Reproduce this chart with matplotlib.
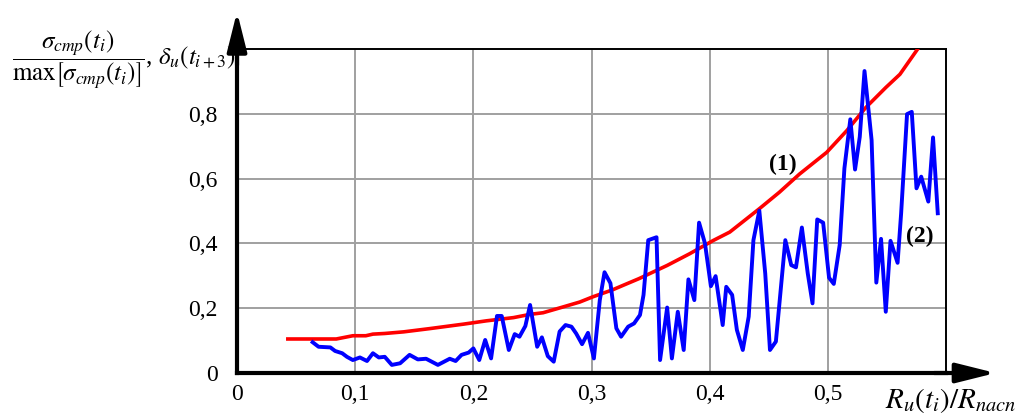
import numpy as np
import matplotlib
matplotlib.use("Agg")
import matplotlib.pyplot as plt
from matplotlib.ticker import FuncFormatter

# ─── Data ───────────────────────────────────────────────────────────────────
# (1) red curve: sigma_cmp(t_i) / max[sigma_cmp(t_i)]
red_x = [0.043, 0.084, 0.098, 0.109, 0.115, 0.125, 0.141, 0.163, 0.192, 0.211,
         0.234, 0.248, 0.259, 0.276, 0.290, 0.301, 0.318, 0.327, 0.340, 0.364,
         0.383, 0.403, 0.417, 0.442, 0.459, 0.476, 0.499, 0.516, 0.532, 0.549,
         0.561, 0.576]
red_y = [0.105, 0.105, 0.115, 0.115, 0.120, 0.122, 0.127, 0.137, 0.151, 0.161,
         0.171, 0.181, 0.186, 0.204, 0.219, 0.235, 0.257, 0.271, 0.291, 0.332,
         0.368, 0.409, 0.435, 0.507, 0.558, 0.614, 0.681, 0.748, 0.819, 0.881,
         0.922, 1.000]

# (2) blue curve: delta_u(t_{i+3})
blue_x = [0.064, 0.069, 0.079, 0.083, 0.089, 0.093, 0.098, 0.104, 0.110, 0.115,
          0.120, 0.125, 0.131, 0.138, 0.146, 0.153, 0.160, 0.170, 0.180, 0.185,
          0.190, 0.196, 0.200, 0.205, 0.210, 0.215, 0.220, 0.224, 0.230, 0.235,
          0.239, 0.244, 0.248, 0.254, 0.258, 0.263, 0.268, 0.273, 0.278, 0.283,
          0.287, 0.292, 0.297, 0.302, 0.307, 0.311, 0.316, 0.321, 0.325, 0.331,
          0.336, 0.341, 0.344, 0.348, 0.355, 0.358, 0.364, 0.368, 0.373, 0.378,
          0.382, 0.387, 0.391, 0.396, 0.401, 0.405, 0.411, 0.414, 0.419, 0.423,
          0.428, 0.433, 0.437, 0.442, 0.447, 0.451, 0.456, 0.464, 0.469, 0.473,
          0.478, 0.483, 0.487, 0.491, 0.496, 0.501, 0.505, 0.510, 0.514, 0.519,
          0.523, 0.527, 0.531, 0.537, 0.541, 0.545, 0.549, 0.553, 0.559, 0.562,
          0.567, 0.571, 0.575, 0.579, 0.585, 0.589, 0.593]
blue_y = [0.095, 0.081, 0.079, 0.068, 0.061, 0.050, 0.040, 0.048, 0.037, 0.061,
          0.048, 0.050, 0.025, 0.030, 0.056, 0.042, 0.044, 0.025, 0.044, 0.037,
          0.056, 0.063, 0.076, 0.040, 0.102, 0.045, 0.176, 0.176, 0.071, 0.120,
          0.112, 0.145, 0.210, 0.081, 0.110, 0.052, 0.035, 0.128, 0.148, 0.143,
          0.122, 0.089, 0.124, 0.045, 0.225, 0.311, 0.277, 0.138, 0.112, 0.143,
          0.153, 0.179, 0.241, 0.410, 0.419, 0.040, 0.202, 0.045, 0.189, 0.071,
          0.289, 0.225, 0.464, 0.400, 0.268, 0.299, 0.148, 0.266, 0.241, 0.133,
          0.071, 0.174, 0.410, 0.501, 0.307, 0.071, 0.097, 0.410, 0.333, 0.326,
          0.449, 0.307, 0.215, 0.474, 0.464, 0.294, 0.275, 0.395, 0.632, 0.783,
          0.628, 0.729, 0.932, 0.719, 0.279, 0.414, 0.189, 0.408, 0.340, 0.493,
          0.799, 0.806, 0.570, 0.606, 0.529, 0.727, 0.493]

X_TICKS = [0, 0.1, 0.2, 0.3, 0.4, 0.5]
Y_TICKS = [0, 0.2, 0.4, 0.6, 0.8]

plt.rcParams["font.family"] = ["Liberation Serif", "DejaVu Serif"]
plt.rcParams["mathtext.fontset"] = "stix"


def comma_fmt(v, _pos):
    if abs(v) < 1e-9:
        return "0"
    return f"{v:.1f}".replace(".", ",")


def main():
    fig = plt.figure(figsize=(10.19, 4.17), dpi=100)
    ax = fig.add_axes([0.2326, 0.1055, 0.6958, 0.777])

    ax.plot(red_x, red_y, color="#ff0000", lw=2.6, zorder=3)
    ax.plot(blue_x, blue_y, color="#0000ff", lw=2.8, zorder=4)

    ax.set_xlim(0, 0.6)
    ax.set_ylim(0, 1.0)
    ax.set_xticks(X_TICKS)
    ax.set_yticks(Y_TICKS)
    ax.xaxis.set_major_formatter(FuncFormatter(comma_fmt))
    ax.yaxis.set_major_formatter(FuncFormatter(comma_fmt))
    ax.tick_params(length=0, labelsize=17)
    ax.tick_params(axis="x", pad=8)
    ax.tick_params(axis="y", pad=14)
    ax.grid(True, color="#a0a0a0", lw=1.4)
    ax.set_axisbelow(True)

    for side in ("top", "right"):
        ax.spines[side].set_linewidth(1.4)
        ax.spines[side].set_color("black")
    for side in ("left", "bottom"):
        ax.spines[side].set_linewidth(3)
        ax.spines[side].set_color("black")
        ax.spines[side].set_zorder(5)

    # axis arrows
    arrow = dict(arrowstyle="-|>,head_length=1.2,head_width=0.3",
                 color="black", lw=3, mutation_scale=20, shrinkA=0, shrinkB=0)
    ax.annotate("", xy=(0, 1.115), xytext=(0, 0.95), xycoords="data",
                arrowprops=arrow, annotation_clip=False)
    ax.annotate("", xy=(0.642, 0), xytext=(0.59, 0), xycoords="data",
                arrowprops=arrow, annotation_clip=False)

    # curve labels
    ax.text(0.462, 0.643, "(1)", fontsize=17, fontweight="bold", ha="center", va="center")
    ax.text(0.578, 0.42, "(2)", fontsize=17, fontweight="bold", ha="center", va="center")

    # axis titles
    fig.text(0.012, 0.858,
             r"$\dfrac{\sigma_{cmp}(t_i)}{\mathrm{max}\left[\sigma_{cmp}(t_i)\right]}$, $\delta_u(t_{i+3})$",
             fontsize=18, ha="left", va="center")
    fig.text(0.997, 0.04, r"$R_u(t_i)/R_{nacn}$", fontsize=21, ha="right", va="center")

    fig.savefig("out.png", dpi=100)
    plt.close(fig)


if __name__ == "__main__":
    main()
